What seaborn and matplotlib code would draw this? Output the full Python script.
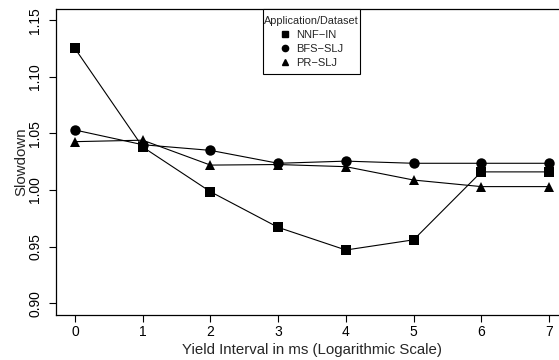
import numpy as np
import pandas as pd
import matplotlib
matplotlib.use("Agg")
import matplotlib.pyplot as plt
from matplotlib.lines import Line2D
from matplotlib.patches import Rectangle
import seaborn as sns

# Yield interval (log scale exponent) and measured slowdown per workload
yield_interval = [0, 1, 2, 3, 4, 5, 6, 7]
nnf_in = [1.125, 1.038, 0.9985, 0.967, 0.947, 0.956, 1.016, 1.016]
bfs_slj = [1.053, 1.040, 1.035, 1.0236, 1.0255, 1.0236, 1.0236, 1.0236]
pr_slj = [1.0427, 1.044, 1.022, 1.0225, 1.0206, 1.0088, 1.003, 1.003]

series_names = ["NNF\u2212IN", "BFS\u2212SLJ", "PR\u2212SLJ"]
series_values = [nnf_in, bfs_slj, pr_slj]
series_markers = ["s", "o", "^"]
y_ticks = [0.90, 0.95, 1.00, 1.05, 1.10, 1.15]

df = pd.DataFrame({
    "interval": np.tile(yield_interval, len(series_names)),
    "slowdown": np.concatenate(series_values),
    "app": np.repeat(series_names, len(yield_interval)),
})

sns.set_theme(style="ticks")
plt.rcParams["font.family"] = ["Liberation Sans", "DejaVu Sans"]

W, H = 559, 360
fig = plt.figure(figsize=(W / 100, H / 100), dpi=100)
left, right, bottom, top = 56, 568, 315, 9.3
ax_w, ax_h = right - left, bottom - top
ax = fig.add_axes([left / W, (H - bottom) / H, ax_w / W, ax_h / H])

sns.lineplot(
    data=df, x="interval", y="slowdown", hue="app", style="app",
    palette={n: "black" for n in series_names},
    markers=dict(zip(series_names, series_markers)),
    dashes=False, linewidth=0.8, markersize=7.5, markeredgewidth=0,
    legend=False, ax=ax,
)

ax.set_xlim(-0.28, 7.28)
ax.set_ylim(0.8896, 1.1596)
ax.set_xticks(yield_interval)
ax.set_yticks(y_ticks)
ax.set_yticklabels([f"{v:.2f}" for v in y_ticks], rotation=90, va="center")
ax.tick_params(axis="both", length=5, width=0.8, color="black",
               labelsize=10, labelcolor="black")
ax.tick_params(axis="x", pad=2)
ax.tick_params(axis="y", pad=5)

for side in ["left", "bottom", "top"]:
    ax.spines[side].set_color("black")
    ax.spines[side].set_linewidth(0.9)
ax.spines["right"].set_visible(False)

ax.set_xlabel("Yield Interval in ms (Logarithmic Scale)", fontsize=10.8, labelpad=3)
ax.set_ylabel("Slowdown", fontsize=10.8, labelpad=0)

# legend box (pixel extents converted to axes fractions)
box_l, box_r, box_b = 262.7, 360, 74
ax.add_patch(Rectangle(((box_l - left) / ax_w, (bottom - box_b) / ax_h),
                       (box_r - box_l) / ax_w, (box_b - top) / ax_h,
                       transform=ax.transAxes, facecolor="white", edgecolor="black",
                       linewidth=0.8, clip_on=False, zorder=4.5))

handles = [Line2D([], [], color="black", marker=m, linestyle="None", markersize=4.5)
           for m in series_markers]
leg = ax.legend(
    handles, series_names, title="Application/Dataset",
    loc="upper center", bbox_to_anchor=((311.5 - left) / ax_w, (bottom - 15.5) / ax_h),
    borderaxespad=0, borderpad=0, frameon=False,
    fontsize=8, title_fontsize=7.8, handlelength=0.8, handletextpad=0.6,
    labelspacing=0.36, alignment="center",
)
leg.set_zorder(5)

fig.savefig("out.png", dpi=100)
